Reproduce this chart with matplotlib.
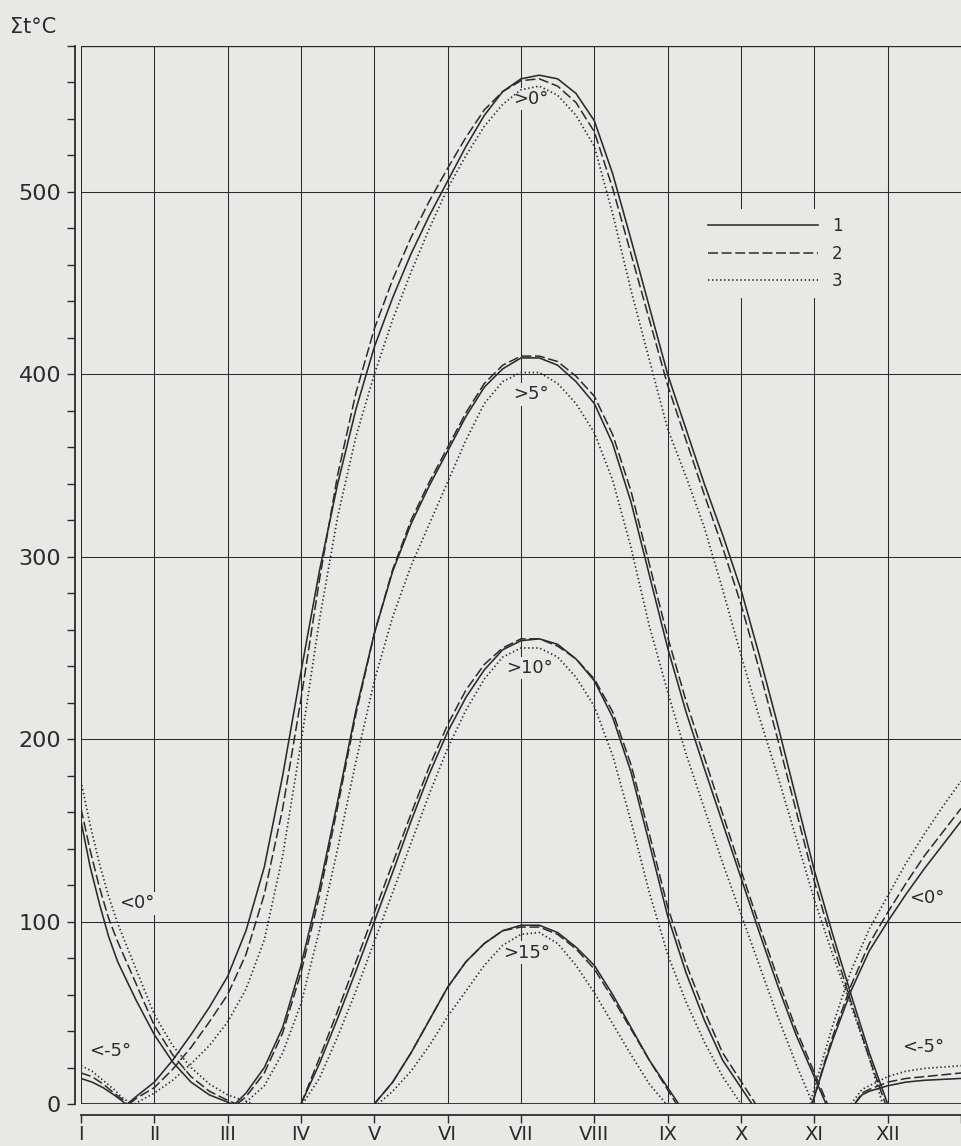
import matplotlib
matplotlib.use("Agg")
import matplotlib.pyplot as plt
from matplotlib.ticker import MultipleLocator

plt.rcParams["font.family"] = ["DejaVu Sans"]
plt.rcParams["lines.scale_dashes"] = False

PAPER = "#e8e8e6"
INK = "#2b2b2b"

# ---- month axis (I = 0 ... XII = 11, end of year = 12) ----
MONTH_LABELS = ["I", "II", "III", "IV", "V", "VI", "VII", "VIII", "IX", "X", "XI", "XII"]
SERIES_LABELS = ["1", "2", "3"]

# ---- sums of temperature above 0 deg ----
GT0_START = [0.63, 0.66, 0.73]
GT0_END = [11.0, 10.97, 10.93]
GT0_MONTHS = [0.75, 1.0, 1.25, 1.5, 1.75, 2.0, 2.25, 2.5, 2.75, 3.0, 3.25, 3.5, 3.75, 4.0,
              4.25, 4.5, 4.75, 5.0, 5.25, 5.5, 5.75, 6.0, 6.25, 6.5, 6.75, 7.0, 7.25, 7.5,
              7.75, 8.0, 8.25, 8.5, 8.75, 9.0, 9.25, 9.5, 9.75, 10.0, 10.25, 10.5, 10.75]
GT0_1 = [4, 12, 24, 38, 53, 70, 95, 130, 180, 237, 292, 340, 381, 415,
         442, 466, 487, 506, 525, 542, 555, 562, 564, 562, 554, 539, 510, 474,
         437, 400, 370, 340, 312, 282, 246, 208, 168, 128, 93, 60, 28]
GT0_2 = [3, 9, 19, 31, 45, 60, 82, 115, 162, 222, 287, 345, 390, 425,
         452, 475, 495, 513, 530, 545, 555, 561, 562, 558, 549, 533, 502, 466,
         430, 394, 364, 334, 305, 274, 238, 200, 161, 122, 88, 56, 25]
GT0_3 = [0.5, 6, 13, 22, 32, 45, 63, 90, 136, 198, 265, 322, 366, 400,
         430, 456, 480, 502, 520, 536, 548, 556, 558, 553, 542, 525, 488, 446,
         408, 370, 344, 316, 282, 246, 212, 180, 146, 112, 82, 54, 25]

# ---- sums above 5 deg ----
GT5_START = [2.1, 2.13, 2.2]
GT5_END = [10.16, 10.18, 9.98]
GT5_MONTHS = [2.25, 2.5, 2.75, 3.0, 3.25, 3.5, 3.75, 4.0, 4.25, 4.5, 4.75, 5.0, 5.25, 5.5,
              5.75, 6.0, 6.25, 6.5, 6.75, 7.0, 7.25, 7.5, 7.75, 8.0, 8.25, 8.5, 8.75, 9.0,
              9.25, 9.5, 9.75]
GT5_1 = [6, 20, 42, 76, 118, 166, 216, 258, 292, 318, 339, 358, 377, 393,
         403, 409, 409, 405, 396, 384, 362, 330, 290, 250, 215, 184, 154, 124,
         94, 65, 38]
GT5_2 = [4, 17, 39, 72, 114, 163, 214, 258, 293, 320, 341, 360, 379, 395,
         405, 410, 410, 407, 399, 388, 367, 336, 296, 256, 221, 190, 159, 128,
         98, 69, 41]
GT5_3 = [1, 10, 28, 55, 95, 140, 188, 232, 267, 295, 318, 341, 364, 384,
         396, 401, 401, 395, 384, 368, 342, 305, 262, 226, 192, 162, 132, 104,
         76, 48, 22]

# ---- sums above 10 deg ----
GT10_START = [3.0, 3.0, 3.02]
GT10_END = [9.15, 9.2, 9.0]
GT10_MONTHS = [3.25, 3.5, 3.75, 4.0, 4.25, 4.5, 4.75, 5.0, 5.25, 5.5, 5.75, 6.0,
               6.25, 6.5, 6.75, 7.0, 7.25, 7.5, 7.75, 8.0, 8.25, 8.5, 8.75]
GT10_1 = [22, 47, 73, 100, 127, 155, 181, 204, 223, 238, 249, 254,
          255, 252, 244, 232, 212, 182, 143, 103, 72, 46, 24]
GT10_2 = [25, 51, 78, 105, 132, 159, 185, 208, 227, 241, 250, 255,
          255, 251, 244, 233, 215, 186, 148, 108, 77, 51, 28]
GT10_3 = [14, 37, 62, 89, 116, 143, 170, 195, 216, 233, 245, 250,
          250, 245, 234, 218, 191, 155, 116, 82, 56, 34, 15]

# ---- sums above 15 deg ----
GT15_START = [4.0, 4.0, 4.05]
GT15_END = [8.15, 8.12, 7.98]
GT15_MONTHS = [4.25, 4.5, 4.75, 5.0, 5.25, 5.5, 5.75, 6.0, 6.25, 6.5, 6.75, 7.0, 7.25, 7.5, 7.75]
GT15_1 = [12, 28, 46, 64, 78, 88, 95, 98, 98, 94, 86, 76, 60, 42, 24]
GT15_2 = [12, 28, 46, 64, 78, 88, 95, 97, 97, 93, 85, 74, 58, 41, 24]
GT15_3 = [7, 18, 32, 48, 62, 76, 87, 93, 94, 88, 76, 61, 44, 27, 11]

# ---- sums below 0 deg: winter start of year and end of year ----
LT0_EARLY_MONTHS = [0.0, 0.125, 0.25, 0.375, 0.5, 0.75, 1.0, 1.25, 1.5, 1.75, 2.0]
LT0_EARLY_END = [2.05, 2.12, 2.35]
LT0_EARLY_1 = [155, 130, 110, 92, 78, 57, 38, 23, 12, 5, 1]
LT0_EARLY_2 = [162, 139, 119, 102, 89, 66, 43, 27, 15, 7, 2]
LT0_EARLY_3 = [177, 153, 132, 114, 99, 74, 49, 32, 20, 11, 5]

LT0_LATE_START = [9.97, 9.97, 9.94]
LT0_LATE_MONTHS = [10.125, 10.25, 10.5, 10.75, 11.0, 11.25, 11.5, 11.75, 12.0]
LT0_LATE_1 = [20, 35, 62, 84, 100, 115, 129, 142, 155]
LT0_LATE_2 = [21, 37, 65, 88, 105, 121, 136, 149, 162]
LT0_LATE_3 = [26, 43, 73, 96, 114, 132, 148, 163, 177]

# ---- sums below -5 deg ----
LT5_EARLY_MONTHS = [0.0, 0.15, 0.3, 0.45, 0.55]
LT5_EARLY_END = [0.61, 0.63, 0.68]
LT5_EARLY_1 = [14, 12, 9, 5, 2]
LT5_EARLY_2 = [17, 15, 11, 6, 3]
LT5_EARLY_3 = [21, 18, 13, 8, 4]

LT5_LATE_START = [10.55, 10.55, 10.5]
LT5_LATE_MONTHS = [10.65, 10.75, 11.0, 11.25, 11.5, 12.0]
LT5_LATE_1 = [5, 7, 10, 12, 13, 14]
LT5_LATE_2 = [6, 8, 12, 14, 15, 17]
LT5_LATE_3 = [8, 10, 15, 18, 19.5, 21]

# ---- curve labels: text, month position, value position ----
CURVE_LABELS = [(">0°", 6.13, 551), (">5°", 6.14, 389), (">10°", 6.12, 239),
                (">15°", 6.08, 83), ("<0°", 0.76, 110), ("<-5°", 0.4, 29),
                ("<0°", 11.53, 113), ("<-5°", 11.48, 31)]

STYLES = [
    dict(linestyle="-", linewidth=1.15),
    dict(linestyle=(0, (7.2, 2.6)), linewidth=1.1),
    dict(linestyle=(0, (1.0, 1.9)), linewidth=1.25),
]

fig = plt.figure(figsize=(9.62, 11.46), dpi=100)
fig.patch.set_facecolor(PAPER)
ax = fig.add_axes([81 / 962, 42 / 1146, 880 / 962, 1058 / 1146])
ax.set_facecolor(PAPER)
ax.set_xlim(0, 12)
ax.set_ylim(0, 580)

# frame and grid
for m in range(12):
    ax.axvline(m, color=INK, linewidth=0.75, zorder=1)
for v in range(100, 600, 100):
    ax.axhline(v, color=INK, linewidth=0.75, zorder=1)
ax.axhline(0, color=INK, linewidth=1.3, zorder=1)
ax.axhline(580, color=INK, linewidth=1.0, zorder=1)

# thermal sum curves
lines = []


def closed(start, months, vals, end, idx):
    h, = ax.plot([start] + months + [end], [0] + vals + [0], color=INK,
                 zorder=3, **STYLES[idx])
    return h


for i, (s, e, vals) in enumerate(zip(GT0_START, GT0_END, [GT0_1, GT0_2, GT0_3])):
    lines.append(closed(s, GT0_MONTHS, vals, e, i))
for i, (s, e, vals) in enumerate(zip(GT5_START, GT5_END, [GT5_1, GT5_2, GT5_3])):
    closed(s, GT5_MONTHS, vals, e, i)
for i, (s, e, vals) in enumerate(zip(GT10_START, GT10_END, [GT10_1, GT10_2, GT10_3])):
    closed(s, GT10_MONTHS, vals, e, i)
for i, (s, e, vals) in enumerate(zip(GT15_START, GT15_END, [GT15_1, GT15_2, GT15_3])):
    closed(s, GT15_MONTHS, vals, e, i)

for i, (e, vals) in enumerate(zip(LT0_EARLY_END, [LT0_EARLY_1, LT0_EARLY_2, LT0_EARLY_3])):
    ax.plot(LT0_EARLY_MONTHS + [e], vals + [0], color=INK, zorder=3, **STYLES[i])
for i, (s, vals) in enumerate(zip(LT0_LATE_START, [LT0_LATE_1, LT0_LATE_2, LT0_LATE_3])):
    ax.plot([s] + LT0_LATE_MONTHS, [0] + vals, color=INK, zorder=3, **STYLES[i])
for i, (e, vals) in enumerate(zip(LT5_EARLY_END, [LT5_EARLY_1, LT5_EARLY_2, LT5_EARLY_3])):
    ax.plot(LT5_EARLY_MONTHS + [e], vals + [0], color=INK, zorder=3, **STYLES[i])
for i, (s, vals) in enumerate(zip(LT5_LATE_START, [LT5_LATE_1, LT5_LATE_2, LT5_LATE_3])):
    ax.plot([s] + LT5_LATE_MONTHS, [0] + vals, color=INK, zorder=3, **STYLES[i])

for text, mx, vy in CURVE_LABELS:
    ax.text(mx, vy, text, fontsize=13, color=INK, ha="center", va="center", zorder=2,
            bbox=dict(facecolor=PAPER, edgecolor="none", pad=1.5))

# legend
leg = ax.legend(lines, SERIES_LABELS, loc="upper left", bbox_to_anchor=(0.7035, 0.846),
                borderaxespad=0, frameon=True, fancybox=False, facecolor=PAPER,
                edgecolor="none", framealpha=1, fontsize=12, handlelength=6.6,
                handletextpad=0.8, labelspacing=0.56, borderpad=0.5)
for t in leg.get_texts():
    t.set_color(INK)

# axes: detached left value axis and bottom month axis
for side in ("top", "right"):
    ax.spines[side].set_visible(False)
ax.spines["left"].set_position(("outward", 6 * 0.72))
ax.spines["left"].set_bounds(0, 580)
ax.spines["bottom"].set_position(("outward", 11 * 0.72))
ax.spines["bottom"].set_bounds(0, 12)
for side in ("left", "bottom"):
    ax.spines[side].set_color(INK)
    ax.spines[side].set_linewidth(1.3)

ax.yaxis.set_major_locator(MultipleLocator(100))
ax.yaxis.set_minor_locator(MultipleLocator(20))
ax.set_yticks(range(0, 600, 100))
ax.set_yticklabels([str(v) for v in range(0, 600, 100)])
ax.tick_params(axis="y", which="both", direction="out", length=6, width=1.0,
               color=INK, labelsize=16, labelcolor=INK, pad=4)
ax.set_xticks(range(13))
ax.set_xticklabels(MONTH_LABELS + [""])
ax.tick_params(axis="x", which="major", direction="out", length=5.5, width=1.0,
               color=INK, labelsize=14, labelcolor=INK, pad=1.5)

fig.text(10 / 962, 1 - 33 / 1146, "Σt°C", fontsize=15, color=INK, ha="left", va="baseline")

fig.savefig("out.png", dpi=100, facecolor=PAPER)
